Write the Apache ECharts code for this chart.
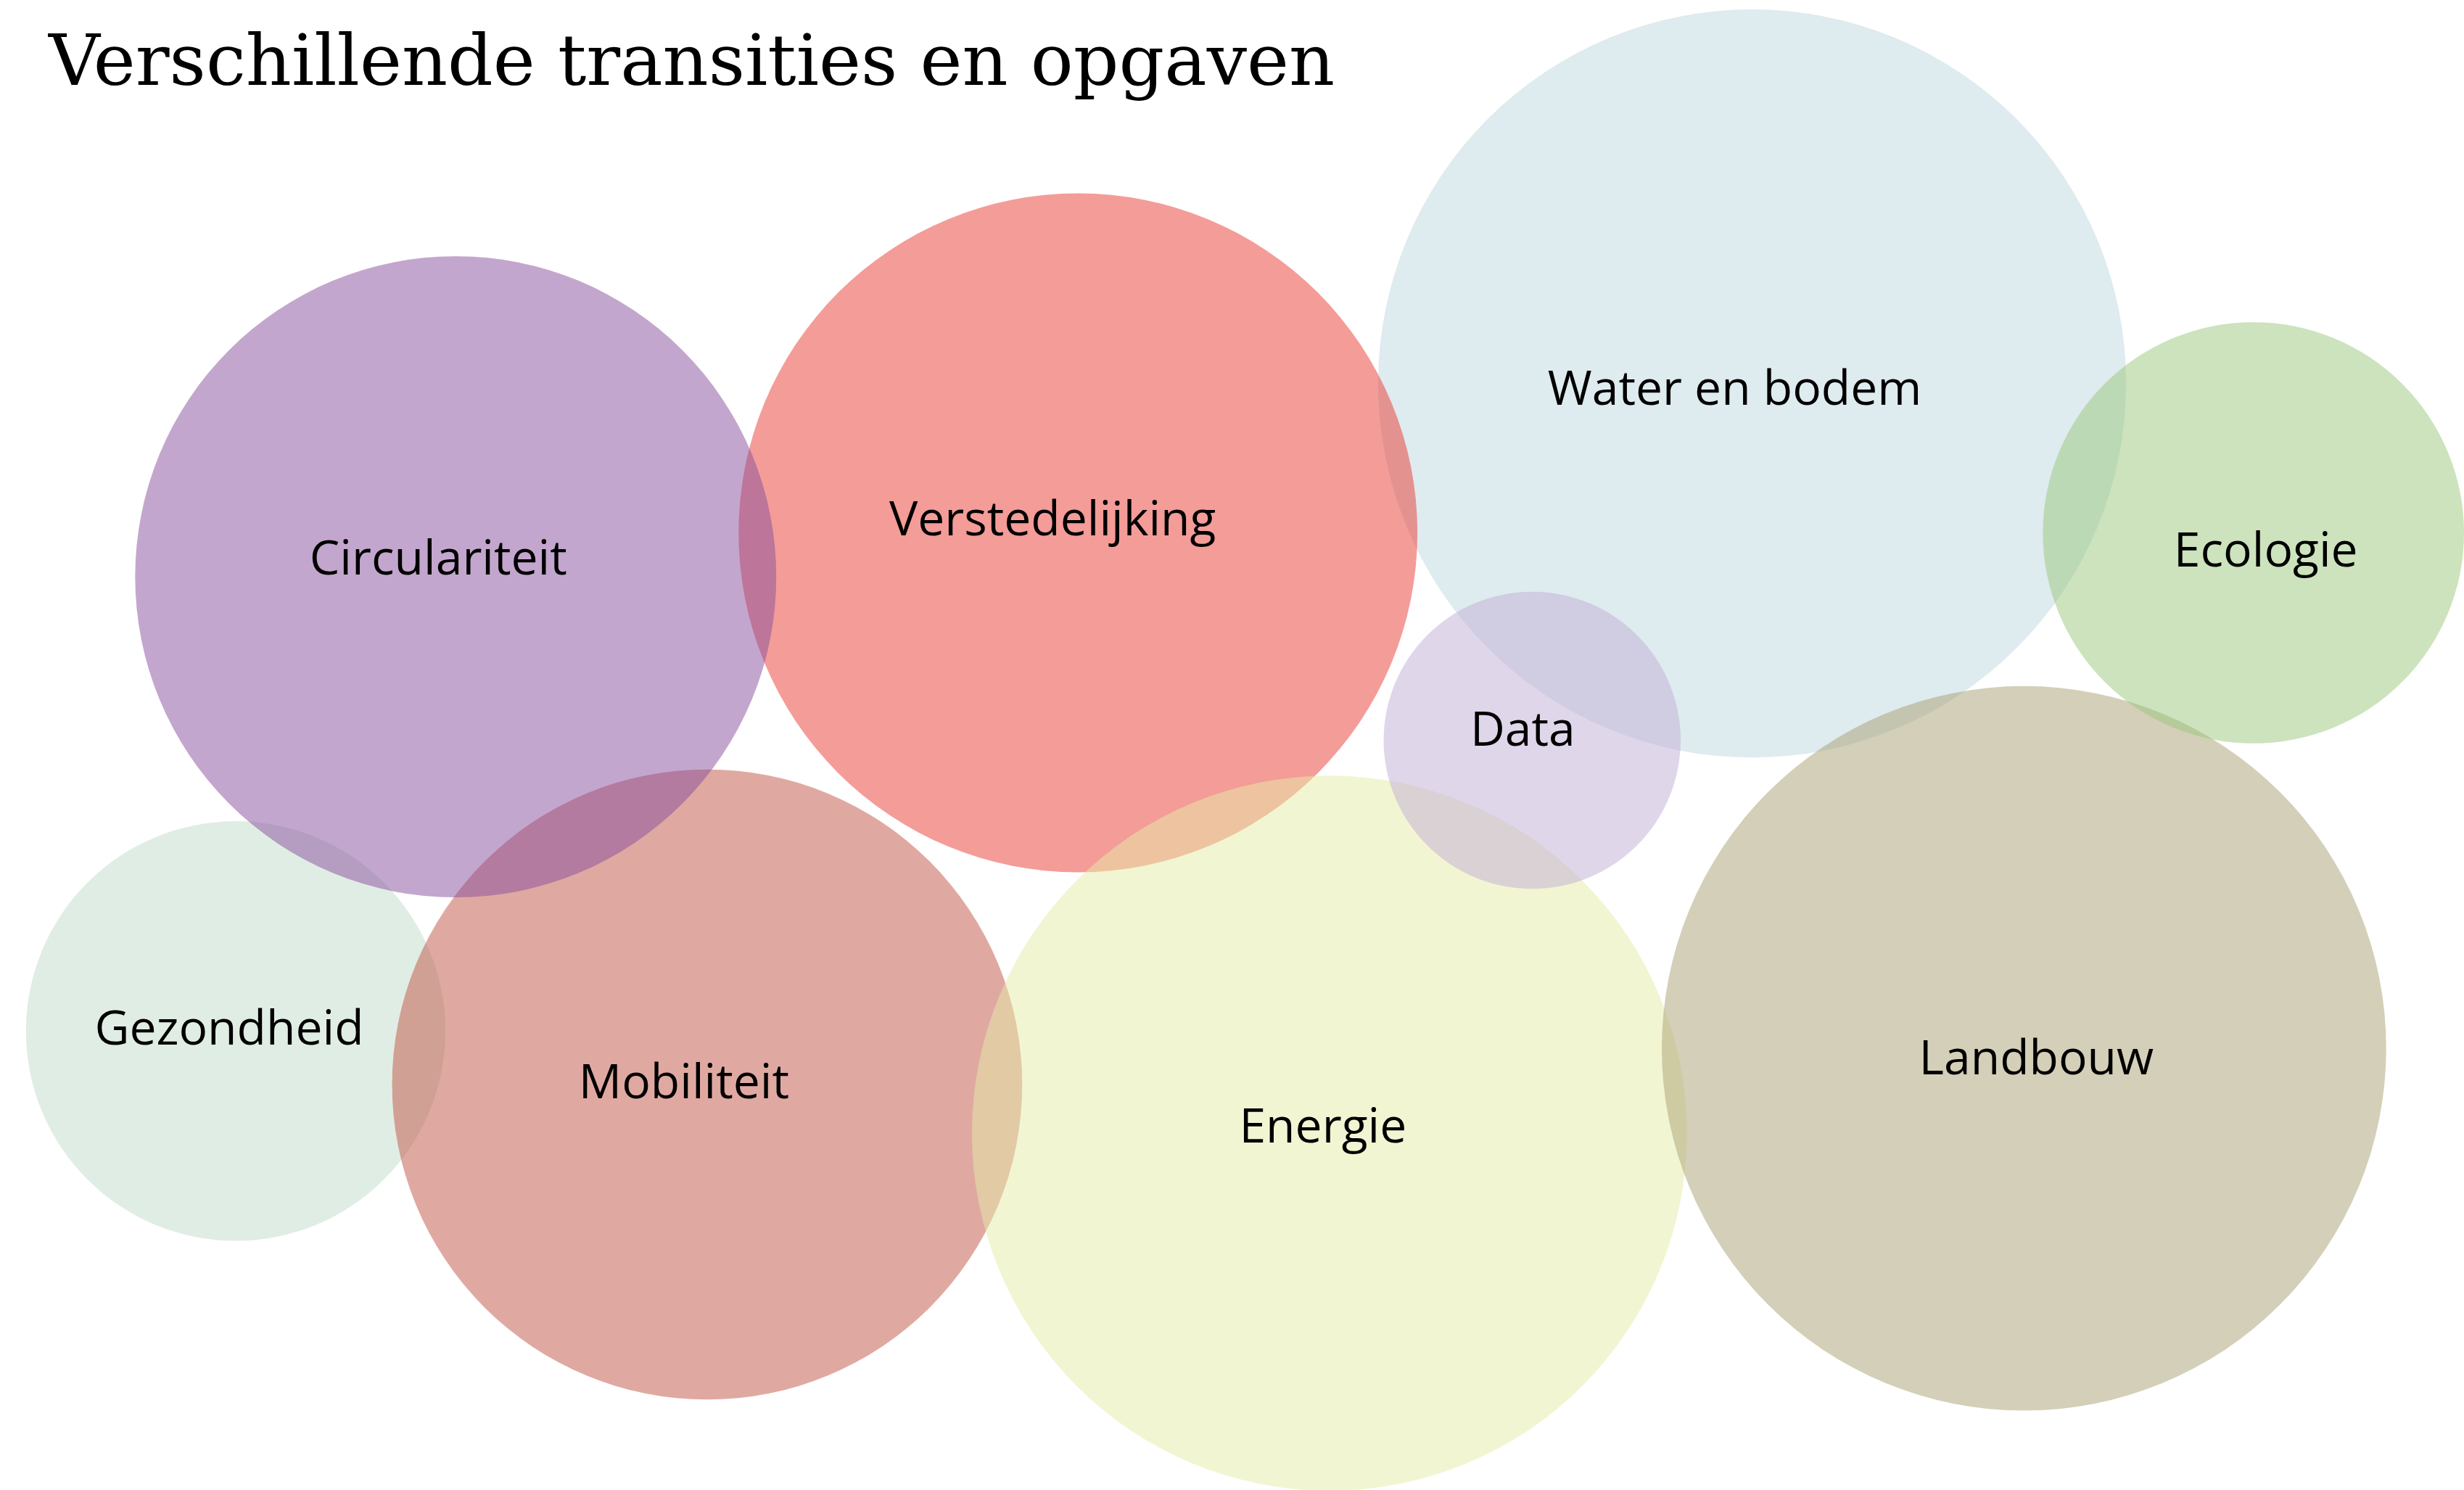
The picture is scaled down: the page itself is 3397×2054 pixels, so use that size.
<!DOCTYPE html>
<html>
<head>
<meta charset="utf-8">
<script src="https://cdn.jsdelivr.net/npm/echarts@6/dist/echarts.min.js"></script>
<style>
  html, body { margin: 0; padding: 0; background: #fff; }
  #chart { width: 3397px; height: 2054px; }
</style>
</head>
<body>
<div id="chart"></div>
<script>
// bubble positions on a 1568 x 948 canvas, drawn in this order (last on top)
const names = ['Water en bodem', 'Gezondheid', 'Mobiliteit', 'Verstedelijking', 'Energie', 'Data', 'Landbouw', 'Ecologie', 'Circulariteit'];
const xs = [1115, 150, 450, 686, 846, 975, 1288, 1434, 290];
const ys = [244, 656, 690, 339, 721, 471, 667, 339, 367];
const diameters = [476, 267, 401, 432, 455, 189, 461, 268, 408];
const colors = ['#bdd7df', '#c1dbc9', '#bf5345', '#e93931', '#e5eba5', '#c1add5', '#a99f71', '#99c77b', '#874d9b'];
// label nudges in px
const labelOffsets = [[-24, 11], [-9, 0], [-32, 0], [-35, -15], [-9, -6], [-13, -11], [17, 17], [17, 28], [-24, -22]];

const chartDom = document.getElementById('chart');
const myChart = echarts.init(chartDom);
const scale = 3397 / 1568;

// half transparent fill, label stays solid black
function fade(hex) {
  const r = parseInt(hex.slice(1, 3), 16);
  const g = parseInt(hex.slice(3, 5), 16);
  const b = parseInt(hex.slice(5, 7), 16);
  return 'rgba(' + r + ',' + g + ',' + b + ',0.5)';
}

const data = names.map((n, i) => ({
  name: n,
  value: [xs[i], ys[i], diameters[i]],
  itemStyle: { color: fade(colors[i]), opacity: 1 },
  label: { offset: labelOffsets[i] }
}));

const option = {
  backgroundColor: '#ffffff',
  animation: false,
  title: {
    text: 'Verschillende transities en opgaven',
    left: 62,
    top: 38,
    textStyle: {
      fontFamily: 'DejaVu Serif',
      fontWeight: 'normal',
      fontSize: 98,
      color: '#000'
    }
  },
  grid: { left: 0, right: 0, top: 0, bottom: 0 },
  xAxis: { type: 'value', min: 0, max: 1568, show: false },
  yAxis: { type: 'value', min: 0, max: 948, inverse: true, show: false },
  series: [{
    type: 'scatter',
    data: data,
    symbolSize: function (v) { return v[2] * scale; },
    itemStyle: { opacity: 1 },
    label: {
      show: true,
      position: 'inside',
      formatter: '{b}',
      fontFamily: 'Open Sans',
      fontSize: 66,
      color: '#000'
    },
    emphasis: { disabled: true }
  }]
};
myChart.setOption(option);
window.onresize = myChart.resize;
</script>
</body>
</html>
